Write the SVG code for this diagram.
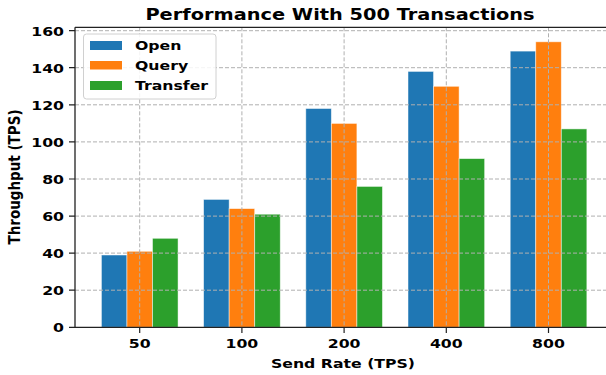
<svg xmlns="http://www.w3.org/2000/svg" width="606" height="375" viewBox="0 0 606 375">
<style>
text{font-family:"DejaVu Sans","Liberation Sans",sans-serif;font-weight:bold;fill:#000}
.tk{font-size:13px}
.yt{text-anchor:end}
.xt{text-anchor:middle}
.grid{stroke:#b0b0b0;stroke-width:1;stroke-dasharray:4,2;fill:none}
.spine{stroke:#222;stroke-width:1.3;fill:none}
.tick{stroke:#222;stroke-width:1.2}
.bar{stroke:#ffffff;stroke-opacity:0.6;stroke-width:0.8}
.o{fill:#1f77b4}.q{fill:#ff7f0e}.t{fill:#2ca02c}
</style>
<rect width="606" height="375" fill="#fff"/>
<g id="bars">
<g id="open">
<rect class="bar o" x="101.4" y="255.0" width="25.55" height="72.3"/>
<rect class="bar o" x="203.6" y="199.4" width="25.55" height="127.9"/>
<rect class="bar o" x="305.8" y="108.5" width="25.55" height="218.8"/>
<rect class="bar o" x="408.0" y="71.4" width="25.55" height="255.9"/>
<rect class="bar o" x="510.2" y="51.1" width="25.55" height="276.2"/>
</g>
<g id="query">
<rect class="bar q" x="126.95" y="251.3" width="25.55" height="76.0"/>
<rect class="bar q" x="229.15" y="208.6" width="25.55" height="118.7"/>
<rect class="bar q" x="331.35" y="123.4" width="25.55" height="203.9"/>
<rect class="bar q" x="433.55" y="86.3" width="25.55" height="241.0"/>
<rect class="bar q" x="535.75" y="41.8" width="25.55" height="285.5"/>
</g>
<g id="transfer">
<rect class="bar t" x="152.5" y="238.3" width="25.55" height="89.0"/>
<rect class="bar t" x="254.7" y="214.2" width="25.55" height="113.1"/>
<rect class="bar t" x="356.9" y="186.4" width="25.55" height="140.9"/>
<rect class="bar t" x="459.1" y="158.6" width="25.55" height="168.7"/>
<rect class="bar t" x="561.3" y="128.9" width="25.55" height="198.4"/>
</g>
</g>
<g id="grid">
<path class="grid" d="M75,290.2H606M75,253.1H606M75,216.1H606M75,179.0H606M75,141.9H606M75,104.8H606M75,67.7H606M75,30.7H606"/>
<path class="grid" d="M139.7,27.3V327.3M241.9,27.3V327.3M344.1,27.3V327.3M446.3,27.3V327.3M548.5,27.3V327.3"/>
</g>
<g id="axes">
<path class="spine" d="M75,27.3H606M75,27.3V327.3H606"/>
<path class="tick" d="M69,327.3H75M69,290.2H75M69,253.1H75M69,216.1H75M69,179.0H75M69,141.9H75M69,104.8H75M69,67.7H75M69,30.7H75"/>
<path class="tick" d="M139.7,327.3V333M241.9,327.3V333M344.1,327.3V333M446.3,327.3V333M548.5,327.3V333"/>
<g class="tk yt">
<text transform="translate(64,332) scale(1.21,1)">0</text>
<text transform="translate(64,295) scale(1.21,1)">20</text>
<text transform="translate(64,258) scale(1.21,1)">40</text>
<text transform="translate(64,221) scale(1.21,1)">60</text>
<text transform="translate(64,184) scale(1.21,1)">80</text>
<text transform="translate(64,147) scale(1.21,1)">100</text>
<text transform="translate(64,110) scale(1.21,1)">120</text>
<text transform="translate(64,73) scale(1.21,1)">140</text>
<text transform="translate(64,36) scale(1.21,1)">160</text>
</g>
<g class="tk xt">
<text transform="translate(139.7,348) scale(1.21,1)">50</text>
<text transform="translate(241.9,348) scale(1.21,1)">100</text>
<text transform="translate(344.1,348) scale(1.21,1)">200</text>
<text transform="translate(446.3,348) scale(1.21,1)">400</text>
<text transform="translate(548.5,348) scale(1.21,1)">800</text>
</g>
<text transform="translate(343,368) scale(1.21,1)" font-size="13" text-anchor="middle">Send Rate (TPS)</text>
<text transform="translate(20,177) rotate(-90) scale(1,1.21)" font-size="13.5" text-anchor="middle">Throughput (TPS)</text>
<text transform="translate(340,20) scale(1.21,1)" font-size="16" text-anchor="middle">Performance With 500 Transactions</text>
</g>
<g id="legend">
<rect x="83.5" y="34" width="132.5" height="65" rx="3" fill="#fff" fill-opacity="0.85" stroke="#d0d0d0" stroke-width="1"/>
<rect class="o" x="90" y="41" width="32" height="9"/>
<rect class="q" x="90" y="61" width="32" height="8.5"/>
<rect class="t" x="90" y="81" width="32" height="9"/>
<text class="tk" transform="translate(135,50) scale(1.21,1)">Open</text>
<text class="tk" transform="translate(135,70) scale(1.21,1)">Query</text>
<text class="tk" transform="translate(135,90) scale(1.21,1)">Transfer</text>
</g>
</svg>
